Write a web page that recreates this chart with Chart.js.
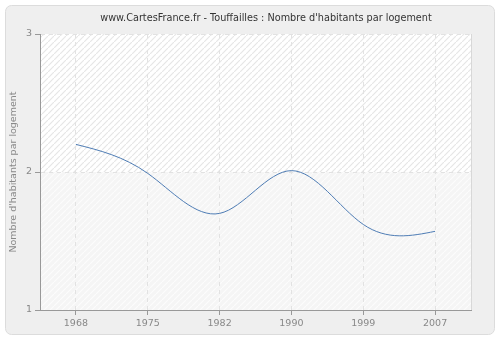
<!DOCTYPE html>
<html>
<head>
<meta charset="utf-8">
<script src="https://cdn.jsdelivr.net/npm/chart.js@4"></script>
<style>
    body { margin: 0; background: #ffffff; }
    #wrap { width: 500px; height: 340px; }
</style>
</head>
<body>
<div id="wrap"><canvas id="habChart" width="500" height="340"></canvas></div>
<script>
// Données du graphique
const years = ['1968', '1975', '1982', '1990', '1999', '2007'];
const habitantsParLogement = [2.2, 1.99, 1.70, 2.01, 1.62, 1.57];
const yTicks = [1, 2, 3];
const chartTitle = "www.CartesFrance.fr - Touffailles : Nombre d'habitants par logement";
const yTitle = "Nombre d'habitants par logement";

const FONT = "'DejaVu Sans', sans-serif";

// Motif hachuré pour le fond de la zone du graphique
function makeHatch(bg, stripe) {
    const s = 6;
    const c = document.createElement('canvas');
    c.width = s;
    c.height = s;
    const g = c.getContext('2d');
    g.fillStyle = bg;
    g.fillRect(0, 0, s, s);
    g.strokeStyle = stripe;
    g.lineWidth = 1.2;
    g.beginPath();
    g.moveTo(-1, s + 1);
    g.lineTo(s + 1, -1);
    g.stroke();
    return g.createPattern(c, 'repeat');
}

// Cadre gris arrondi + fond de la zone + titre
const backgroundPlugin = {
    id: 'cfBackground',
    beforeDraw(chart) {
        const ctx = chart.ctx;
        const area = chart.chartArea;
        const yScale = chart.scales.y;
        ctx.save();

        // cadre extérieur
        ctx.beginPath();
        ctx.roundRect(5.5, 5.5, 489, 329, 6);
        ctx.fillStyle = '#efefef';
        ctx.fill();
        ctx.strokeStyle = '#dcdcdc';
        ctx.lineWidth = 1;
        ctx.stroke();

        // zone du graphique, bande haute et bande basse
        const mid = yScale.getPixelForValue(2);
        ctx.fillStyle = makeHatch('#ffffff', '#e6e6e6');
        ctx.fillRect(area.left, area.top, area.right - area.left, mid - area.top);
        ctx.fillStyle = makeHatch('#f5f5f5', '#fcfcfc');
        ctx.fillRect(area.left, mid, area.right - area.left, area.bottom - mid);

        // bord droit
        ctx.strokeStyle = '#d8d8d8';
        ctx.beginPath();
        ctx.moveTo(area.right + 0.5, area.top);
        ctx.lineTo(area.right + 0.5, area.bottom);
        ctx.stroke();

        // titre
        ctx.fillStyle = '#333333';
        ctx.font = '9.7px ' + FONT;
        ctx.textAlign = 'center';
        ctx.textBaseline = 'middle';
        ctx.fillText(chartTitle, 266, 18);
        ctx.restore();
    }
};

// Spline cubique naturelle : remplace les points de contrôle calculés par Chart.js
const naturalSplinePlugin = {
    id: 'naturalSpline',
    beforeDatasetsDraw(chart) {
        const meta = chart.getDatasetMeta(0);
        const line = meta.dataset;
        line.updateControlPoints(chart.chartArea, 'x');
        const pts = meta.data;
        const n = pts.length;
        if (n < 3) return;

        const h = [];
        for (let i = 0; i < n - 1; i++) h.push(pts[i + 1].x - pts[i].x);

        // système tridiagonal pour les dérivées secondes (M0 = Mn = 0)
        const M = new Array(n).fill(0);
        const c = new Array(n).fill(0);
        const d = new Array(n).fill(0);
        for (let i = 1; i < n - 1; i++) {
            const a = h[i - 1], b = 2 * (h[i - 1] + h[i]), cc = h[i];
            const r = 6 * ((pts[i + 1].y - pts[i].y) / h[i] - (pts[i].y - pts[i - 1].y) / h[i - 1]);
            const denom = b - a * c[i - 1];
            c[i] = cc / denom;
            d[i] = (r - a * d[i - 1]) / denom;
        }
        for (let i = n - 2; i >= 1; i--) M[i] = d[i] - c[i] * M[i + 1];

        // pentes aux noeuds puis points de contrôle de Bézier
        for (let i = 0; i < n - 1; i++) {
            const p0 = pts[i], p1 = pts[i + 1], hi = h[i];
            const dy = (p1.y - p0.y) / hi;
            const m0 = dy - hi * (2 * M[i] + M[i + 1]) / 6;
            const m1 = dy + hi * (M[i] + 2 * M[i + 1]) / 6;
            p0.cp2x = p0.x + hi / 3;
            p0.cp2y = p0.y + m0 * hi / 3;
            p1.cp1x = p1.x - hi / 3;
            p1.cp1y = p1.y - m1 * hi / 3;
        }
    }
};

function initHabChart() {
    const ctx = document.getElementById('habChart');
    if (!ctx) return;

    new Chart(ctx, {
        type: 'line',
        data: {
            labels: years,
            datasets: [{
                data: habitantsParLogement,
                borderColor: '#4f7db5',
                borderWidth: 1,
                fill: false,
                tension: 0.4,
                pointRadius: 0
            }]
        },
        options: {
            responsive: false,
            animation: false,
            layout: {
                padding: { left: 0, right: 29, top: 34, bottom: 0 }
            },
            plugins: {
                legend: { display: false },
                tooltip: { enabled: false }
            },
            scales: {
                x: {
                    offset: true,
                    afterFit: function(scale) { scale.height = 30; },
                    grid: {
                        color: '#e2e2e2',
                        tickColor: '#999999',
                        tickBorderDash: [],
                        tickLength: 5
                    },
                    border: { color: '#999999', dash: [4, 4] },
                    ticks: {
                        color: '#888888',
                        padding: 3,
                        maxRotation: 0,
                        font: { family: FONT, size: 9.5 }
                    }
                },
                y: {
                    min: 1,
                    max: 3,
                    afterFit: function(scale) { scale.width = 40; },
                    afterBuildTicks: function(scale) {
                        scale.ticks = yTicks.map(v => ({ value: v }));
                    },
                    grid: {
                        color: '#e2e2e2',
                        tickColor: '#999999',
                        tickBorderDash: [],
                        tickLength: 5
                    },
                    border: { color: '#999999', dash: [4, 4] },
                    ticks: {
                        color: '#888888',
                        padding: 3,
                        font: { family: FONT, size: 9.5 }
                    },
                    title: {
                        display: true,
                        text: yTitle,
                        color: '#888888',
                        padding: { top: 8, bottom: 0 },
                        font: { family: FONT, size: 9.5 }
                    }
                }
            }
        },
        plugins: [backgroundPlugin, naturalSplinePlugin]
    });
}

initHabChart();
</script>
</body>
</html>
